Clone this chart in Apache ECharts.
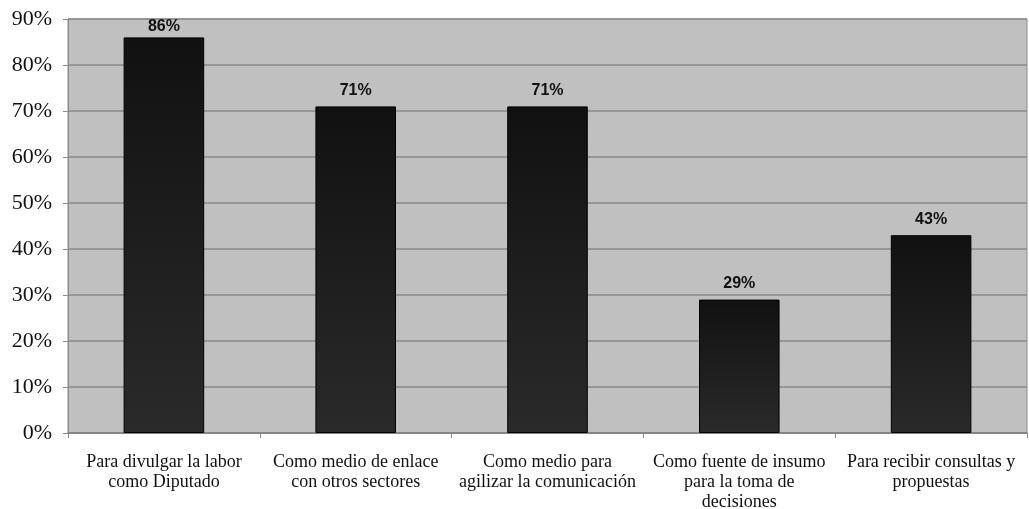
<!DOCTYPE html>
<html>
<head>
<meta charset="utf-8">
<script src="https://cdn.jsdelivr.net/npm/echarts@6/dist/echarts.min.js"></script>
<style>
  html, body { margin: 0; padding: 0; background: #fff; }
  #main { width: 1029px; height: 509px; }
</style>
</head>
<body>
<div id="main"></div>
<script>
const categories = [
  'Para divulgar la labor\ncomo Diputado',
  'Como medio de enlace\ncon otros sectores',
  'Como medio para\nagilizar la comunicación',
  'Como fuente de insumo\npara la toma de\ndecisiones',
  'Para recibir consultas y\npropuestas'
];
const values = [86, 71, 71, 29, 43];
const yTicks = { min: 0, max: 90, interval: 10 };

const myChart = echarts.init(document.getElementById('main'));

const barColor = new echarts.graphic.LinearGradient(0, 0, 0, 1, [
  { offset: 0, color: '#111111' },
  { offset: 1, color: '#2a2a2a' }
]);

// the tallest bar's label sits closer to the bar (it is squeezed under the top edge)
const barData = values.map((v, i) => i === 0 ? { value: v, label: { distance: 3 } } : v);

myChart.setOption({
  animation: false,
  backgroundColor: '#ffffff',
  grid: {
    left: 68, right: 2, top: 19, bottom: 76,
    outerBoundsMode: 'none',
    containLabel: false,
    show: true,
    backgroundColor: '#c0c0c0',
    borderColor: '#8c8c8c',
    borderWidth: 1
  },
  xAxis: {
    type: 'category',
    data: categories,
    axisLine: { lineStyle: { color: '#808080', width: 1.5 } },
    axisTick: { show: true, length: 5, lineStyle: { color: '#8c8c8c' } },
    axisLabel: {
      interval: 0,
      color: '#111',
      fontFamily: 'Liberation Serif',
      fontSize: 18,
      lineHeight: 20,
      margin: 19
    }
  },
  yAxis: {
    type: 'value',
    min: yTicks.min,
    max: yTicks.max,
    interval: yTicks.interval,
    axisLine: { show: true, lineStyle: { color: '#8c8c8c' } },
    axisTick: { show: true, length: 5, lineStyle: { color: '#8c8c8c' } },
    splitLine: { lineStyle: { color: '#8a8a8a', width: 1.5 } },
    axisLabel: {
      formatter: '{value}%',
      color: '#111',
      fontFamily: 'Liberation Serif',
      fontSize: 22,
      margin: 16
    }
  },
  series: [{
    type: 'bar',
    data: barData,
    barWidth: '42%',
    itemStyle: { color: barColor, borderColor: '#000', borderWidth: 1 },
    label: {
      show: true,
      position: 'top',
      formatter: '{c}%',
      color: '#111',
      fontFamily: 'Liberation Sans',
      fontWeight: 'bold',
      fontSize: 16,
      distance: 8
    }
  }]
});
</script>
</body>
</html>
